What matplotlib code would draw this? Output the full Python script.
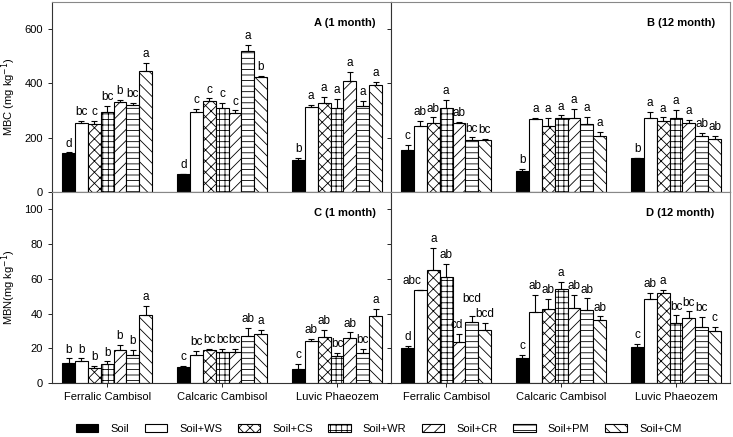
import numpy as np
import matplotlib
matplotlib.use("Agg")
import matplotlib.pyplot as plt
from matplotlib.patches import Patch

plt.rcParams['font.family'] = ['Liberation Sans', 'DejaVu Sans']
plt.rcParams['hatch.linewidth'] = 0.6

soils = ["Ferralic Cambisol", "Calcaric Cambisol", "Luvic Phaeozem"]
treatments = ["Soil", "Soil+WS", "Soil+CS", "Soil+WR", "Soil+CR", "Soil+PM", "Soil+CM"]

# MBC 1 month (rows = soil, cols = treatment)
mbc_1 = [[143, 256, 250, 296, 333, 321, 447],
         [66, 294, 334, 311, 291, 520, 425],
         [119, 312, 327, 311, 408, 316, 394]]
mbc_1_err = [[3, 7, 12, 21, 6, 6, 29],
             [2, 13, 11, 16, 10, 21, 3],
             [6, 10, 24, 32, 34, 19, 11]]
mbc_1_let = [["d", "bc", "c", "bc", "b", "bc", "a"],
             ["d", "c", "c", "c", "c", "a", "b"],
             ["b", "a", "a", "a", "a", "a", "a"]]

# MBC 12 month
mbc_12 = [[153, 245, 253, 309, 253, 192, 191],
          [77, 269, 242, 273, 273, 251, 207],
          [124, 271, 261, 271, 253, 207, 197]]
mbc_12_err = [[20, 16, 22, 30, 4, 9, 5],
              [7, 4, 30, 9, 32, 27, 15],
              [2, 24, 14, 31, 14, 12, 11]]
mbc_12_let = [["c", "ab", "ab", "a", "ab", "bc", "bc"],
              ["b", "a", "a", "a", "a", "a", "a"],
              ["b", "a", "a", "a", "a", "ab", "ab"]]

# MBN 1 month
mbn_1 = [[11.5, 12.5, 8.7, 11.0, 19.2, 16.0, 39.2],
         [9.4, 16.2, 19.0, 17.9, 17.7, 26.9, 28.3],
         [8.3, 24.0, 26.7, 15.6, 26.0, 17.5, 38.3]]
mbn_1_err = [[2.7, 1.7, 1.0, 1.5, 2.7, 3.0, 5.4],
             [0.3, 2.3, 0.8, 1.7, 2.1, 4.8, 2.3],
             [2.7, 1.6, 3.9, 1.7, 3.2, 2.3, 4.6]]
mbn_1_let = [["b", "b", "b", "b", "b", "b", "a"],
             ["c", "bc", "bc", "bc", "bc", "ab", "a"],
             ["c", "ab", "ab", "bc", "ab", "bc", "a"]]

# MBN 12 month
mbn_12 = [[20.2, 53.8, 64.8, 60.8, 23.5, 35.0, 30.4],
          [14.4, 40.8, 42.9, 54.4, 43.1, 42.1, 36.3],
          [21.0, 48.3, 51.7, 34.6, 37.3, 32.5, 29.8]]
mbn_12_err = [[1.3, 0.0, 13.0, 8.0, 4.8, 3.8, 4.2],
              [1.9, 10.0, 5.4, 3.9, 7.5, 6.6, 2.0],
              [1.5, 3.6, 1.8, 4.4, 3.9, 5.6, 2.5]]
mbn_12_let = [["d", "abc", "a", "ab", "cd", "bcd", "bcd"],
              ["c", "ab", "ab", "a", "ab", "ab", "ab"],
              ["c", "ab", "a", "bc", "bc", "bc", "c"]]

colors = ["black", "white", "white", "white", "white", "white", "white"]
hatches = [None, None, "xxx", "+++", "///", "---", "\\\\\\"]

W, H = 733, 437
fig = plt.figure(figsize=(W / 100, H / 100), dpi=100)


def px_axes(left, top, right, bottom):
    return fig.add_axes([left / W, (H - bottom) / H, (right - left) / W, (bottom - top) / H])


def panel(ax, vals, errs, lets, ymax, yticks, title, show_ylab, ylab=None, show_xlab=False,
          nudge=None):
    nudge = nudge or {}
    bw = 0.112
    x = np.arange(len(soils))
    for j in range(len(treatments)):
        v = [vals[i][j] for i in range(3)]
        e = [errs[i][j] for i in range(3)]
        xs = x + (j - 3) * bw
        ax.bar(xs, v, bw, color=colors[j], edgecolor="black", hatch=hatches[j],
               linewidth=0.8, zorder=2)
        ax.errorbar(xs, v, yerr=[np.zeros(3), e], fmt="none", ecolor="black",
                    elinewidth=0.8, capsize=2.5, capthick=0.8, zorder=3)
        for k in range(3):
            dx, dy = nudge.get((k, j), (0, 0))
            ax.annotate(lets[k][j], (xs[k], v[k] + e[k]), xytext=(dx, 2 + dy),
                        textcoords="offset points", ha="center", va="bottom", fontsize=8.5)
    ax.set_xlim(-0.48, 2.47)
    ax.set_ylim(0, ymax)
    ax.set_yticks(yticks)
    ax.set_xticks(x)
    ax.tick_params(direction="out", length=3, width=0.6, labelsize=8)
    if show_xlab:
        ax.set_xticklabels(soils, fontsize=8)
    else:
        ax.set_xticklabels([])
    if not show_ylab:
        ax.set_yticklabels([])
    else:
        ax.set_ylabel(ylab, fontsize=8)
        ax.yaxis.set_label_coords(-0.1, 0.5)
    for s in ["top", "right"]:
        ax.spines[s].set_color("#888888")
    for s in ["left", "bottom"]:
        ax.spines[s].set_color("#333333")
    ax.text(0.955, 0.89, title, transform=ax.transAxes, ha="right", va="center",
            fontsize=8, fontweight="bold")


axA = px_axes(52, 2, 391, 192)
axB = px_axes(391, 2, 730, 192)
axC = px_axes(52, 192, 391, 383)
axD = px_axes(391, 192, 730, 383)

panel(axA, mbc_1, mbc_1_err, mbc_1_let, 700, [0, 200, 400, 600], "A (1 month)", True,
      "MBC (mg kg$^{-1}$)")
panel(axB, mbc_12, mbc_12_err, mbc_12_let, 700, [0, 200, 400, 600], "B (12 month)", False)
panel(axC, mbn_1, mbn_1_err, mbn_1_let, 110, [0, 20, 40, 60, 80, 100], "C (1 month)", True,
      "MBN(mg kg$^{-1}$)", show_xlab=True)
panel(axD, mbn_12, mbn_12_err, mbn_12_let, 110, [0, 20, 40, 60, 80, 100], "D (12 month)", False,
      show_xlab=True, nudge={(0, 1): (-6, 0), (0, 4): (-2, 0), (0, 5): (0, 6)})

handles = [Patch(facecolor=colors[j], edgecolor="black", hatch=hatches[j], linewidth=0.8)
           for j in range(len(treatments))]
fig.legend(handles, treatments, loc="center", bbox_to_anchor=(379 / W, 1 - 429 / H),
           ncol=7, frameon=False, fontsize=8, handlelength=2.0, handleheight=0.7,
           handletextpad=1.1, columnspacing=1.4)

fig.savefig("out.png", dpi=100)
